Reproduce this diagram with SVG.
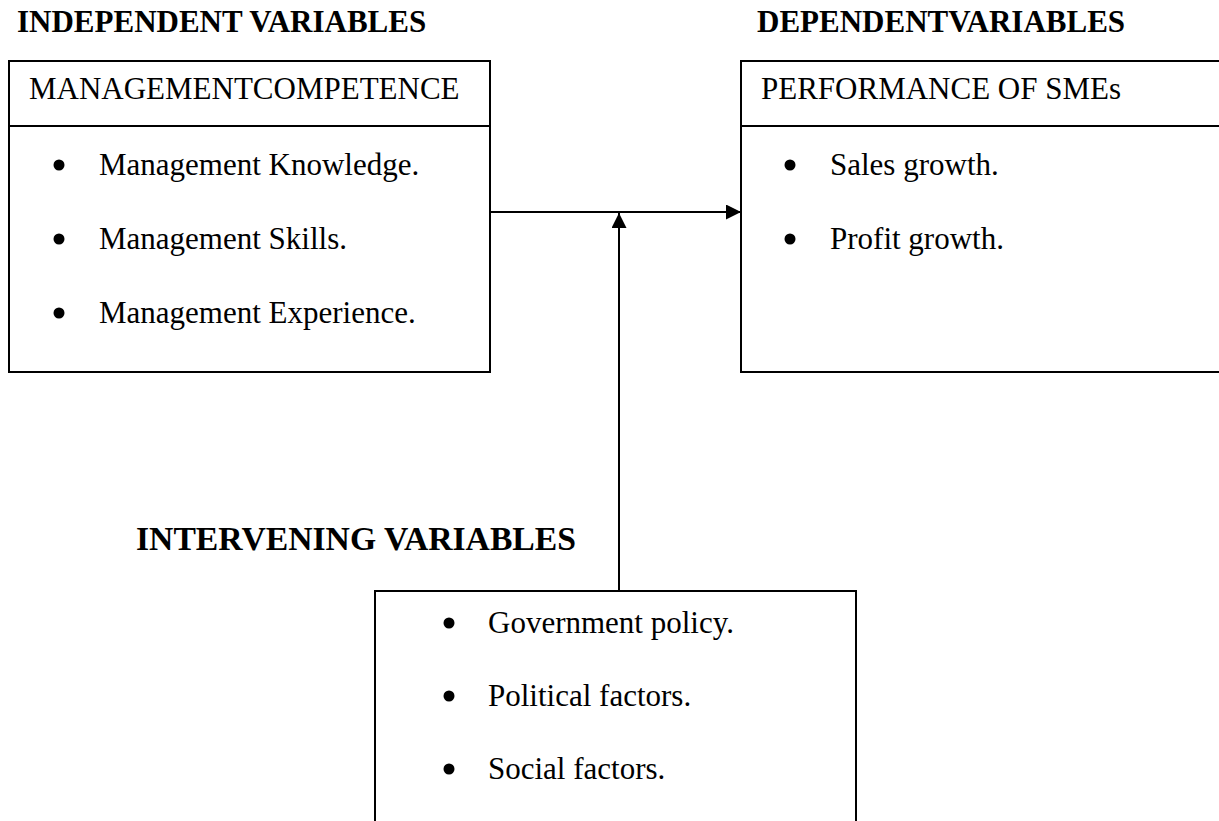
<svg xmlns="http://www.w3.org/2000/svg" width="1219" height="821" viewBox="0 0 1219 821">
  <style>
    .head { font-family: "Liberation Serif", "Times New Roman", serif; font-weight: bold; font-size: 31px; fill: #000; }
    .txt { font-family: "Liberation Serif", "Times New Roman", serif; font-size: 31px; fill: #000; }
    .box { fill: #fff; stroke: #000; stroke-width: 2; }
    .rule { stroke: #000; stroke-width: 2; }
    .dot { fill: #000; }
    .wire { stroke: #000; stroke-width: 2; fill: none; }
  </style>
  <defs>
    <marker id="arrow" viewBox="0 0 10 10" refX="10" refY="5" markerWidth="7.5" markerHeight="7.5" markerUnits="strokeWidth" orient="auto">
      <path d="M0,0 L10,5 L0,10 Z" fill="#000"/>
    </marker>
  </defs>
  <rect width="1219" height="821" fill="#fff"/>

  <!-- section headings -->
  <text class="head" x="17" y="32">INDEPENDENT VARIABLES</text>
  <text class="head" x="757" y="32">DEPENDENTVARIABLES</text>
  <text class="head" x="136" y="550" style="font-size:33px" textLength="440" lengthAdjust="spacingAndGlyphs">INTERVENING VARIABLES</text>

  <!-- connectors -->
  <g id="connectors">
    <line class="wire" x1="490" y1="212" x2="741" y2="212" marker-end="url(#arrow)"/>
    <line class="wire" x1="619" y1="591" x2="619" y2="213" marker-end="url(#arrow)"/>
  </g>

  <!-- independent variables -->
  <g id="management-competence">
    <rect class="box" x="9" y="61" width="481" height="311"/>
    <line class="rule" x1="9" y1="126" x2="490" y2="126"/>
    <text class="txt" x="29" y="99">MANAGEMENTCOMPETENCE</text>
    <circle class="dot" cx="59" cy="165" r="5.5"/>
    <text class="txt" x="99" y="175">Management Knowledge.</text>
    <circle class="dot" cx="59" cy="239" r="5.5"/>
    <text class="txt" x="99" y="249">Management Skills.</text>
    <circle class="dot" cx="59" cy="313" r="5.5"/>
    <text class="txt" x="99" y="323">Management Experience.</text>
  </g>

  <!-- dependent variables -->
  <g id="performance-of-smes">
    <rect class="box" x="741" y="61" width="500" height="311"/>
    <line class="rule" x1="741" y1="126" x2="1219" y2="126"/>
    <text class="txt" x="761" y="99">PERFORMANCE OF SMEs</text>
    <circle class="dot" cx="790" cy="165" r="5.5"/>
    <text class="txt" x="830" y="175">Sales growth.</text>
    <circle class="dot" cx="790" cy="239" r="5.5"/>
    <text class="txt" x="830" y="249">Profit growth.</text>
  </g>

  <!-- intervening variables -->
  <g id="intervening-factors">
    <rect class="box" x="375" y="591" width="481" height="260"/>
    <circle class="dot" cx="449" cy="623" r="5.5"/>
    <text class="txt" x="488" y="633">Government policy.</text>
    <circle class="dot" cx="449" cy="696" r="5.5"/>
    <text class="txt" x="488" y="706">Political factors.</text>
    <circle class="dot" cx="449" cy="769" r="5.5"/>
    <text class="txt" x="488" y="779">Social factors.</text>
  </g>
</svg>
